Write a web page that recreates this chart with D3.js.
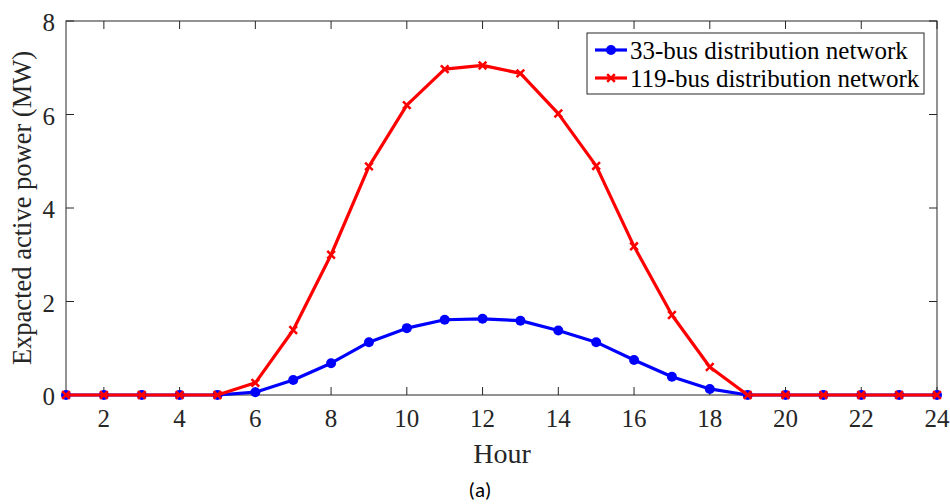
<!DOCTYPE html>
<html>
<head>
<meta charset="utf-8">
<script src="https://cdn.jsdelivr.net/npm/d3@7"></script>
<style>
  body { margin: 0; background: #fff; }
  svg { display: block; }
</style>
</head>
<body>
<svg id="chart" width="950" height="504"></svg>
<script>
// data
const hours = d3.range(1, 25);
const bus33 = [0, 0, 0, 0, 0, 0.06, 0.32, 0.68, 1.13, 1.43, 1.61, 1.63, 1.59, 1.38, 1.13, 0.75, 0.39, 0.13, 0, 0, 0, 0, 0, 0];
const bus119 = [0, 0, 0, 0, 0, 0.26, 1.39, 3.0, 4.89, 6.2, 6.97, 7.05, 6.88, 6.02, 4.9, 3.18, 1.71, 0.6, 0, 0, 0, 0, 0, 0];
const xTicks = [2, 4, 6, 8, 10, 12, 14, 16, 18, 20, 22, 24];
const yTicks = [0, 2, 4, 6, 8];
const seriesNames = ["33-bus distribution network", "119-bus distribution network"];

const plot = { left: 66, right: 937, top: 21, bottom: 395 };
const axisColor = "#262626";
const serif = "'Liberation Serif', 'Times New Roman', serif";

const svg = d3.select("#chart");

const x = d3.scaleLinear().domain([1, 24]).range([plot.left, plot.right]);
const y = d3.scaleLinear().domain([0, 8]).range([plot.bottom, plot.top]);

const g = svg.append("g");

// box
g.append("rect")
  .attr("x", plot.left).attr("y", plot.top)
  .attr("width", plot.right - plot.left).attr("height", plot.bottom - plot.top)
  .attr("fill", "none").attr("stroke", axisColor).attr("stroke-width", 1);

// ticks (inward, both sides)
const tickLen = 8;
g.append("g").selectAll("line")
  .data(xTicks).join("line")
  .attr("x1", d => x(d)).attr("x2", d => x(d))
  .attr("y1", plot.bottom).attr("y2", plot.bottom - tickLen)
  .attr("stroke", axisColor);
g.append("g").selectAll("line")
  .data(xTicks).join("line")
  .attr("x1", d => x(d)).attr("x2", d => x(d))
  .attr("y1", plot.top).attr("y2", plot.top + tickLen)
  .attr("stroke", axisColor);
g.append("g").selectAll("line")
  .data(yTicks).join("line")
  .attr("x1", plot.left).attr("x2", plot.left + tickLen)
  .attr("y1", d => y(d)).attr("y2", d => y(d))
  .attr("stroke", axisColor);
g.append("g").selectAll("line")
  .data(yTicks).join("line")
  .attr("x1", plot.right).attr("x2", plot.right - tickLen)
  .attr("y1", d => y(d)).attr("y2", d => y(d))
  .attr("stroke", axisColor);

// tick labels
g.append("g").selectAll("text")
  .data(xTicks).join("text")
  .attr("x", d => x(d)).attr("y", plot.bottom + 32)
  .attr("text-anchor", "middle")
  .style("font", `25px ${serif}`).attr("fill", axisColor)
  .text(d => d);
g.append("g").selectAll("text")
  .data(yTicks).join("text")
  .attr("x", plot.left - 11).attr("y", d => y(d) + 10)
  .attr("text-anchor", "end")
  .style("font", `25px ${serif}`).attr("fill", axisColor)
  .text(d => d);

// axis titles
svg.append("text")
  .attr("x", 502).attr("y", 463)
  .attr("text-anchor", "middle")
  .style("font", `28px ${serif}`).attr("fill", axisColor)
  .text("Hour");
svg.append("text")
  .attr("transform", `translate(31,${(plot.top + plot.bottom) / 2}) rotate(-90)`)
  .attr("text-anchor", "middle")
  .style("font", `26.5px ${serif}`).attr("fill", axisColor)
  .text("Expacted active power (MW)");
svg.append("text")
  .attr("x", 480).attr("y", 497)
  .attr("text-anchor", "middle")
  .style("font", "21px Carlito, 'Open Sans', sans-serif").attr("fill", "#000")
  .text("(a)");

const line = d3.line().x((d, i) => x(hours[i])).y(d => y(d));

// 33-bus series
g.append("path").datum(bus33)
  .attr("d", line).attr("fill", "none")
  .attr("stroke", "#0000ff").attr("stroke-width", 3.2).attr("stroke-linejoin", "round");
g.append("g").selectAll("circle")
  .data(bus33).join("circle")
  .attr("cx", (d, i) => x(hours[i])).attr("cy", d => y(d)).attr("r", 5)
  .attr("fill", "#0000ff");

// 119-bus series
const cross = d3.symbol().type(d3.symbolX).size(40);
g.append("path").datum(bus119)
  .attr("d", line).attr("fill", "none")
  .attr("stroke", "#ff0000").attr("stroke-width", 3.2).attr("stroke-linejoin", "round");
g.append("g").selectAll("path")
  .data(bus119).join("path")
  .attr("transform", (d, i) => `translate(${x(hours[i])},${y(d)})`)
  .attr("d", cross)
  .attr("fill", "#ff0000").attr("stroke", "#ff0000").attr("stroke-width", 2.5);

// legend
const lg = svg.append("g").attr("transform", "translate(587,33)");
lg.append("rect")
  .attr("width", 337).attr("height", 61)
  .attr("fill", "#fff").attr("stroke", axisColor).attr("stroke-width", 1);
const items = lg.selectAll("g.item")
  .data(seriesNames).join("g")
  .attr("class", "item")
  .attr("transform", (d, i) => `translate(0,${17 + i * 28})`);
items.append("line")
  .attr("x1", 8).attr("x2", 40).attr("y1", 0).attr("y2", 0)
  .attr("stroke", (d, i) => i ? "#ff0000" : "#0000ff").attr("stroke-width", 3.2);
items.filter((d, i) => i === 0).append("circle")
  .attr("cx", 24).attr("cy", 0).attr("r", 5).attr("fill", "#0000ff");
items.filter((d, i) => i === 1).append("path")
  .attr("transform", "translate(24,0)").attr("d", cross)
  .attr("fill", "#ff0000").attr("stroke", "#ff0000").attr("stroke-width", 2.5);
items.append("text")
  .attr("x", 43).attr("y", 8.5)
  .style("font", `25px ${serif}`).attr("fill", "#000")
  .text(d => d);
</script>
</body>
</html>
